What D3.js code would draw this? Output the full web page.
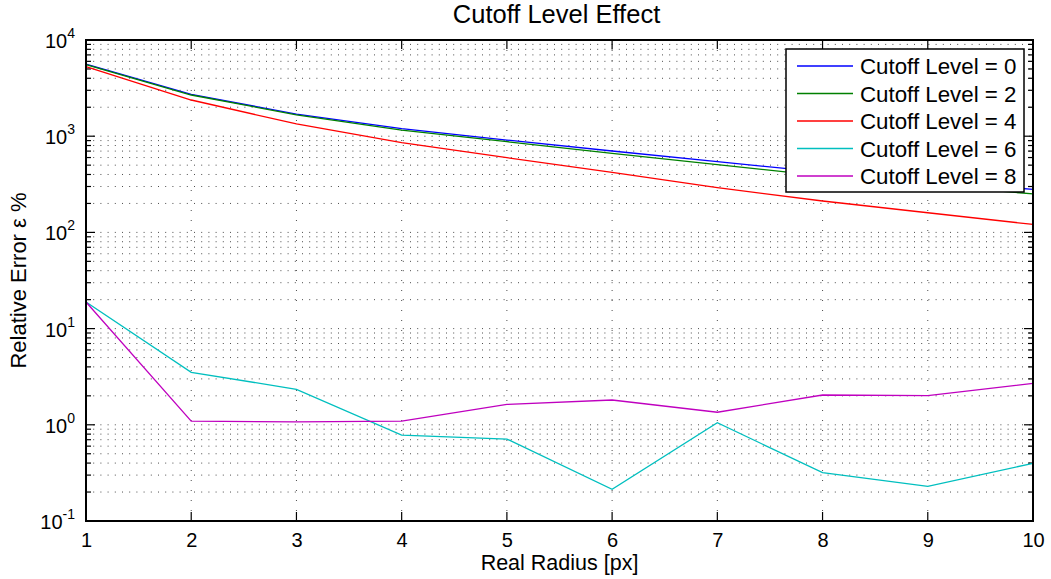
<!DOCTYPE html>
<html><head><meta charset="utf-8">
<script src="https://cdn.jsdelivr.net/npm/d3@7"></script>
<style>body{margin:0;background:#fff}svg{display:block;font-family:"Liberation Sans",Arial,Helvetica,sans-serif}</style>
</head><body><svg id="c" width="1051" height="579"></svg>
<script>
const radius = [1,2,3,4,5,6,7,8,9,10];
const level0 = [5620,2720,1700,1197,912,702,543,423,344,280];
const level2 = [5560,2680,1670,1159,877,664,506,387,311,251];
const level4 = [5280,2378,1340,857,598,421,292,212,160,121];
const level6 = [18.9,3.51,2.34,0.78,0.711,0.214,1.05,0.318,0.229,0.398];
const level8 = [18.9,1.09,1.07,1.09,1.63,1.81,1.35,2.04,2.01,2.70];
const seriesNames = ["Cutoff Level = 0","Cutoff Level = 2","Cutoff Level = 4","Cutoff Level = 6","Cutoff Level = 8"];
const seriesColors = ["#0000ff","#008000","#ff0000","#00bfbf","#bf00bf"];
const xTicks = [1,2,3,4,5,6,7,8,9,10];
const yExponents = [-1,0,1,2,3,4];
const titleText = "Cutoff Level Effect";
const xLabel = "Real Radius [px]";
const yLabel = "Relative Error \u03b5 %";

const series = [level0,level2,level4,level6,level8];
const svg = d3.select("#c");
const L=86,R=1033,T=40,B=521;
const x = d3.scaleLinear().domain([1,10]).range([L,R]);
const y = d3.scaleLog().domain([0.1,10000]).range([B,T]);

// grid
const g = svg.append("g");
const minorVals=[];
for(let e=-1;e<4;e++) for(let m=2;m<=9;m++) minorVals.push(m*Math.pow(10,e));
const majorVals = yExponents.map(e=>Math.pow(10,e));
g.selectAll(".hg").data(minorVals.concat(majorVals.slice(1,-1))).enter().append("line")
 .attr("x1",L).attr("x2",R).attr("y1",d=>y(d)).attr("y2",d=>y(d))
 .attr("stroke","#000").attr("stroke-opacity",0.7).attr("stroke-width",1).attr("stroke-dasharray","1,6.2");
g.selectAll(".vg").data(xTicks.slice(1,-1)).enter().append("line")
 .attr("x1",d=>x(d)).attr("x2",d=>x(d)).attr("y1",T).attr("y2",B)
 .attr("stroke","#000").attr("stroke-opacity",0.7).attr("stroke-width",1).attr("stroke-dasharray","1,9");

// ticks inside on all sides
const tk = svg.append("g").attr("stroke","#000").attr("stroke-width",1.2);
xTicks.forEach(v=>{
  tk.append("line").attr("x1",x(v)).attr("x2",x(v)).attr("y1",B).attr("y2",B-9);
  tk.append("line").attr("x1",x(v)).attr("x2",x(v)).attr("y1",T).attr("y2",T+9);
});
majorVals.forEach(v=>{
  tk.append("line").attr("x1",L).attr("x2",L+9).attr("y1",y(v)).attr("y2",y(v));
  tk.append("line").attr("x1",R).attr("x2",R-9).attr("y1",y(v)).attr("y2",y(v));
});
minorVals.forEach(v=>{
  tk.append("line").attr("x1",L).attr("x2",L+5).attr("y1",y(v)).attr("y2",y(v));
  tk.append("line").attr("x1",R).attr("x2",R-5).attr("y1",y(v)).attr("y2",y(v));
});

// lines
const line = d3.line().x((d,i)=>x(radius[i])).y(d=>y(d));
series.forEach((s,i)=>{
  svg.append("path").datum(s).attr("d",line).attr("fill","none")
   .attr("stroke",seriesColors[i]).attr("stroke-width",1.3);
});

// box
svg.append("rect").attr("x",L).attr("y",T).attr("width",R-L).attr("height",B-T)
 .attr("fill","none").attr("stroke","#000").attr("stroke-width",2);

// x tick labels
const xa = d3.axisBottom(x).tickValues(xTicks).tickSize(0).tickPadding(0);
const xg = svg.append("g").attr("transform",`translate(0,${B})`).call(xa);
xg.select(".domain").remove();
xg.selectAll("text").attr("font-size",20).attr("font-family","Liberation Sans, Arial, sans-serif").attr("fill","#000").attr("dy",null).attr("y",25.5);

// y tick labels
yExponents.forEach(e=>{
  const t = svg.append("text").attr("x",75).attr("y",y(Math.pow(10,e))+8).attr("text-anchor","end")
   .attr("font-size",20).attr("fill","#000");
  t.append("tspan").text("10");
  t.append("tspan").text(e).attr("font-size",14).attr("dy",-10);
});

// title and labels
svg.append("text").attr("x",(L+R)/2 - 3).attr("y",23).attr("text-anchor","middle").attr("font-size",25.5).text(titleText);
svg.append("text").attr("x",(L+R)/2).attr("y",570).attr("text-anchor","middle").attr("font-size",21.5).text(xLabel);
svg.append("text").attr("transform",`translate(26,${(T+B)/2}) rotate(-90)`).attr("text-anchor","middle").attr("font-size",22).text(yLabel);

// legend
const lg = svg.append("g");
lg.append("rect").attr("x",786).attr("y",49).attr("width",238).attr("height",143).attr("fill","#fff").attr("stroke","#000").attr("stroke-width",1.5);
seriesNames.forEach((n,i)=>{
  const yy = 66 + i*27.5;
  lg.append("line").attr("x1",797).attr("x2",853).attr("y1",yy).attr("y2",yy).attr("stroke",seriesColors[i]).attr("stroke-width",1.3);
  lg.append("text").attr("x",860).attr("y",yy+8).attr("font-size",22.3).text(n);
});
</script></body></html>
